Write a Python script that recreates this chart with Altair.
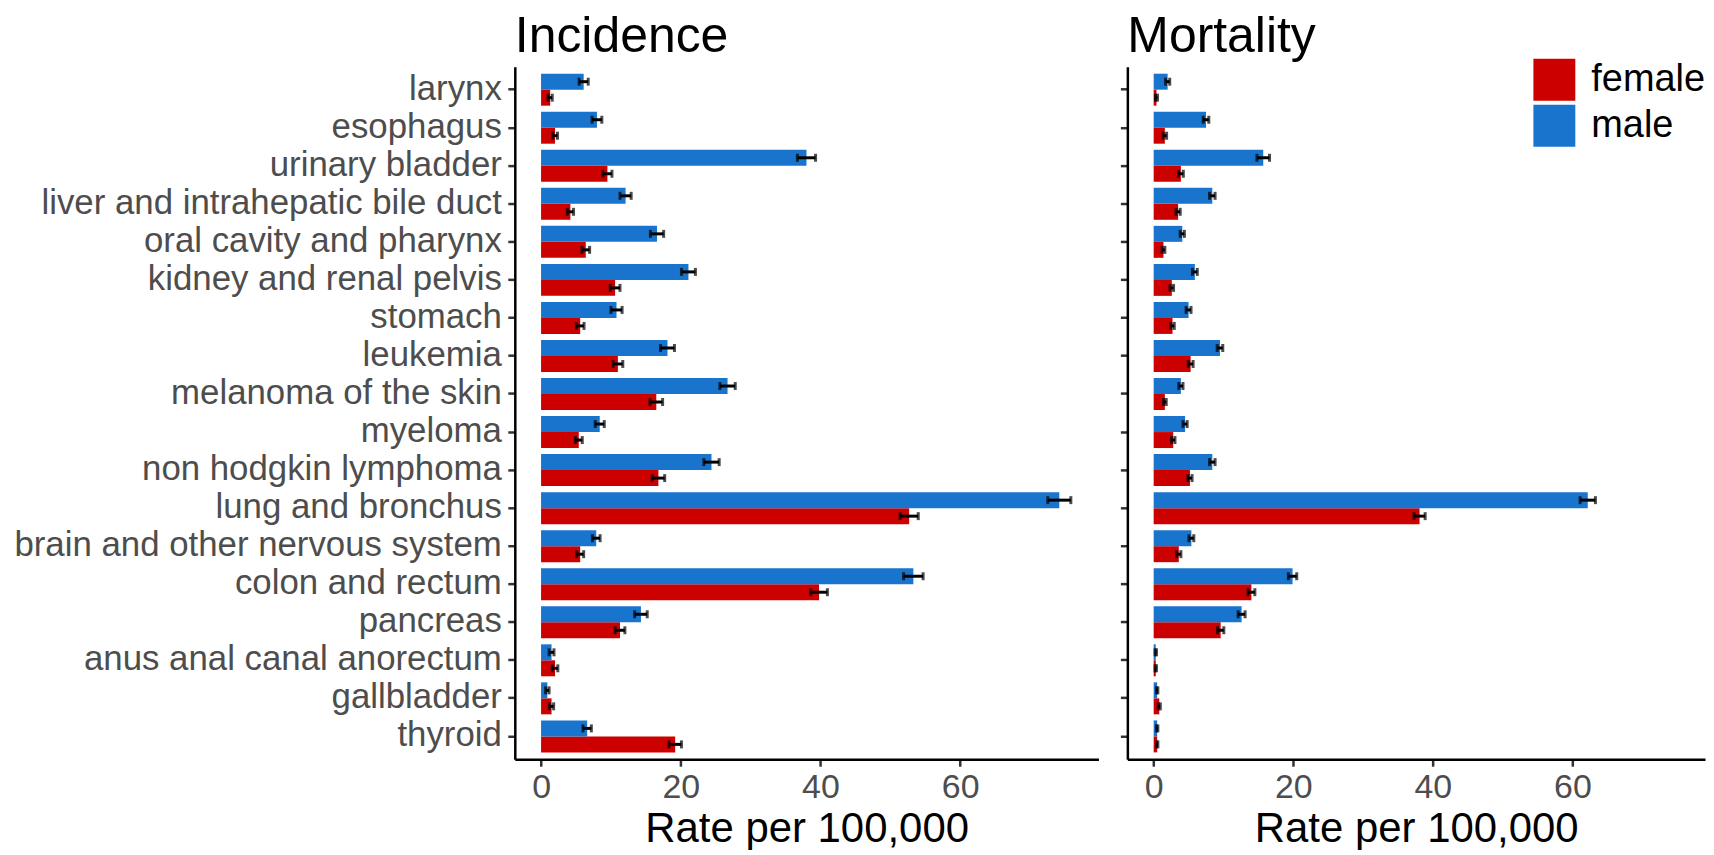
import altair as alt
import pandas as pd

sites = ["larynx", "esophagus", "urinary bladder", "liver and intrahepatic bile duct",
         "oral cavity and pharynx", "kidney and renal pelvis", "stomach", "leukemia",
         "melanoma of the skin", "myeloma", "non hodgkin lymphoma", "lung and bronchus",
         "brain and other nervous system", "colon and rectum", "pancreas",
         "anus anal canal anorectum", "gallbladder", "thyroid"]

inc_female = [1.3, 2.0, 9.5, 4.2, 6.4, 10.6, 5.6, 11.0, 16.5, 5.4, 16.8, 52.7, 5.6, 39.8, 11.3, 2.0, 1.5, 19.2]
inc_male = [6.1, 8.0, 38.0, 12.1, 16.6, 21.1, 10.8, 18.1, 26.7, 8.4, 24.4, 74.2, 7.9, 53.3, 14.3, 1.5, 0.9, 6.6]
inc_female_err = [0.3, 0.35, 0.65, 0.45, 0.55, 0.7, 0.55, 0.7, 0.9, 0.5, 0.9, 1.3, 0.5, 1.2, 0.7, 0.4, 0.3, 0.9]
inc_male_err = [0.65, 0.7, 1.3, 0.8, 0.95, 1.0, 0.8, 1.0, 1.1, 0.65, 1.1, 1.65, 0.55, 1.4, 0.9, 0.35, 0.25, 0.6]

mort_female = [0.4, 1.6, 3.9, 3.5, 1.4, 2.6, 2.7, 5.3, 1.6, 2.8, 5.2, 38.1, 3.6, 14.0, 9.6, 0.3, 0.8, 0.5]
mort_male = [2.0, 7.5, 15.7, 8.4, 4.1, 5.9, 5.0, 9.5, 3.9, 4.5, 8.4, 62.2, 5.4, 19.9, 12.6, 0.3, 0.5, 0.5]
mort_female_err = [0.15, 0.25, 0.35, 0.3, 0.2, 0.25, 0.25, 0.35, 0.2, 0.25, 0.3, 0.8, 0.3, 0.5, 0.45, 0.1, 0.15, 0.1]
mort_male_err = [0.3, 0.4, 0.9, 0.4, 0.3, 0.35, 0.35, 0.4, 0.3, 0.3, 0.4, 1.1, 0.35, 0.6, 0.5, 0.1, 0.1, 0.1]

sexes = ["female", "male"]
colors = ["#CD0000", "#1874CD"]


def build(values_f, values_m, err_f, err_m):
    rows = []
    for i, s in enumerate(sites):
        for sex, v, e in (("female", values_f[i], err_f[i]), ("male", values_m[i], err_m[i])):
            rows.append({"site": s, "sex": sex, "rate": v, "lo": v - e, "hi": v + e})
    return pd.DataFrame(rows)


FONT = "Liberation Sans"


def panel(df, title, show_labels, width, xdom):
    yenc = alt.Y("site:N", sort=sites,
                 scale=alt.Scale(paddingInner=0, paddingOuter=0.1),
                 axis=alt.Axis(title=None, labels=show_labels, labelFontSize=34.9,
                               labelColor="#4D4D4D", labelFont=FONT, labelPadding=6.5,
                               tickSize=7, tickWidth=2.5, tickColor="#333333",
                               domainColor="black", domainWidth=2.5, labelLimit=1000))
    xaxis = alt.Axis(values=[0, 20, 40, 60], title="Rate per 100,000",
                     titleFontSize=42, titleFont=FONT, titleFontWeight="normal",
                     titleColor="black", labelFontSize=34, labelFont=FONT,
                     labelColor="#4D4D4D", tickSize=7, tickWidth=2.5,
                     tickColor="#333333", domainColor="black", domainWidth=2.5,
                     grid=False, titlePadding=4, labelPadding=4)
    xscale = alt.Scale(domain=xdom, nice=False, zero=False)
    yoff = alt.YOffset("sex:N", sort=["male", "female"],
                       scale=alt.Scale(domain=["male", "female"], paddingInner=0, paddingOuter=0.19))
    leg = alt.Legend(title=None, orient="none", legendX=1021, legendY=-8,
                     symbolType="square", symbolSize=1764,
                     symbolStrokeWidth=0, labelFontSize=38,
                     labelFont=FONT, labelColor="black",
                     rowPadding=4, labelOffset=16)
    cenc = alt.Color("sex:N", scale=alt.Scale(domain=sexes, range=colors), legend=leg)
    base = alt.Chart(df)
    bars = base.mark_bar().encode(
        y=yenc, x=alt.X("rate:Q", scale=xscale, axis=xaxis), x2=alt.datum(0),
        yOffset=yoff, color=cenc)
    err = base.mark_rule(color="black", strokeWidth=3).encode(
        y=yenc, x=alt.X("lo:Q", scale=xscale, axis=xaxis), x2="hi:Q", yOffset=yoff)
    cap_lo = base.mark_tick(color="black", thickness=3, size=8, orient="vertical").encode(
        y=yenc, x=alt.X("lo:Q", scale=xscale, axis=xaxis), yOffset=yoff)
    cap_hi = base.mark_tick(color="black", thickness=3, size=8, orient="vertical").encode(
        y=yenc, x=alt.X("hi:Q", scale=xscale, axis=xaxis), yOffset=yoff)
    return alt.layer(bars, err, cap_lo, cap_hi).properties(
        width=width, height=694,
        view=alt.ViewBackground(strokeOpacity=0, strokeWidth=0),
        title=alt.TitleParams(title, anchor="start", frame="group", fontSize=50, font=FONT,
                              fontWeight="normal", color="black", offset=5))


inc = panel(build(inc_female, inc_male, inc_female_err, inc_male_err), "Incidence", True, 585,
            [-3.76, 79.8])
mort = panel(build(mort_female, mort_male, mort_female_err, mort_male_err), "Mortality", False, 579,
             [-3.77, 79.0])

chart = alt.hconcat(inc, mort, spacing=20).properties(
    padding={"left": 5, "top": 3, "right": 0, "bottom": 0}
).configure_view(stroke="transparent", strokeWidth=0, strokeOpacity=0).configure_legend(
    padding=0
).configure(background="white")

chart.save("out.html", embed_options={"renderer": "svg", "actions": False})
